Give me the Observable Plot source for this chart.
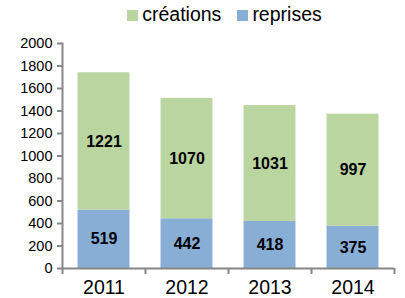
<!DOCTYPE html>
<html><head><meta charset="utf-8">
<script src="https://cdn.jsdelivr.net/npm/d3@7"></script>
<script src="https://cdn.jsdelivr.net/npm/@observablehq/plot@0.6"></script>
<style>
body{margin:0;background:#fff;font-family:Arial,"Liberation Sans",sans-serif;}
#legend{height:25px;padding-top:3px;padding-left:44px;display:flex;justify-content:center;font-size:19.5px;line-height:22px;color:#000;}
#legend .item{display:inline-block;white-space:nowrap;}
#legend .sw{display:inline-block;width:11px;height:11px;margin-right:4px;vertical-align:baseline;}
#legend .item + .item{margin-left:16px;}
</style></head>
<body>
<div id="legend"></div>
<div id="chart"></div>
<script>
const years = [2011, 2012, 2013, 2014];
const reprises = [519, 442, 418, 375];
const creations = [1221, 1070, 1031, 997];
const series = ["reprises", "créations"];
const colors = ["#88AED6", "#BAD5A0"];
const yTicks = [0, 200, 400, 600, 800, 1000, 1200, 1400, 1600, 1800, 2000];

const data = [];
years.forEach((yr, i) => {
  data.push({year: yr, series: "reprises", value: reprises[i]});
  data.push({year: yr, series: "créations", value: creations[i]});
});
const half = 0.313;
const boundaries = [...years.map(y => y - 0.5), years[years.length - 1] + 0.5];

const legend = document.getElementById("legend");
[["créations", colors[1]], ["reprises", colors[0]]].forEach(([name, c]) => {
  const s = document.createElement("span");
  s.className = "item";
  s.innerHTML = `<span class="sw" style="background:${c}"></span>${name}`;
  legend.appendChild(s);
});

const plot = Plot.plot({
  width: 405,
  height: 270,
  marginTop: 15,
  marginBottom: 30,
  marginLeft: 62,
  marginRight: 11,
  style: {fontFamily: "Arial, 'Liberation Sans', sans-serif", background: "transparent", overflow: "visible"},
  x: {domain: [years[0] - 0.5, years[years.length - 1] + 0.5], axis: null},
  y: {domain: [0, 2000], axis: null},
  color: {domain: series, range: colors},
  marks: [
    Plot.rectY(data, Plot.stackY({x1: d => d.year - half, x2: d => d.year + half, y: "value", z: "series", fill: "series", order: series})),
    Plot.text(data, Plot.stackY({x: "year", y: "value", z: "series", text: d => String(d.value), order: series, fontSize: 16, fontWeight: "bold", fill: "#000"})),
    Plot.axisY({ticks: yTicks, tickSize: 5, tickPadding: 5, fontSize: 14.5, tickFormat: d => String(d), stroke: "#868686", strokeWidth: 2, color: "#000", label: null}),
    Plot.axisX({ticks: boundaries, tickSize: 6, tickFormat: () => "", stroke: "#868686", strokeWidth: 2, label: null}),
    Plot.axisX({ticks: years, tickSize: 0, tickPadding: 12, tickFormat: d => String(d), fontSize: 19.5, color: "#000", label: null}),
    Plot.ruleY([0], {stroke: "#868686", strokeWidth: 2}),
    Plot.frame({anchor: "left", stroke: "#868686", strokeWidth: 2})
  ]
});
document.getElementById("chart").appendChild(plot);
</script>
</body></html>
